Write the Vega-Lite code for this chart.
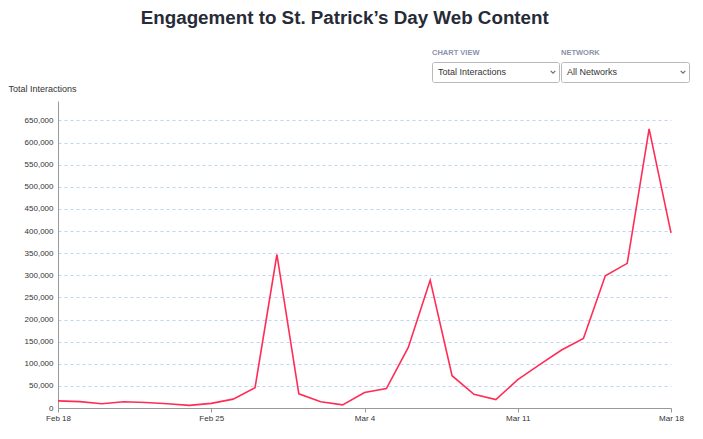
{
  "$schema": "https://vega.github.io/schema/vega-lite/v6.json",
  "background": "white",
  "padding": {"left": 8, "top": 9, "right": 5, "bottom": 5},
  "title": {
    "text": "Engagement to St. Patrick’s Day Web Content",
    "font": "Liberation Sans",
    "fontSize": 18.8,
    "fontWeight": "bold",
    "color": "#272b37",
    "anchor": "middle",
    "dx": -4,
    "offset": 20
  },
  "config": {
    "view": {"stroke": null},
    "font": "Liberation Sans"
  },
  "spacing": 1,
  "vconcat": [
    {
      "spacing": 0,
      "hconcat": [
        {
          "width": 373,
          "height": 20,
          "data": {"values": []},
          "mark": {"type": "point", "opacity": 0}
        },
        {
          "width": 127,
          "height": 20,
          "view": {"stroke": "#b9b9b9", "fill": "white", "cornerRadius": 2},
          "title": {"text": "CHART VIEW", "fontSize": 7.5, "fontWeight": "bold", "color": "#8a93aa", "anchor": "start", "offset": 6},
          "data": {"values": [{"choice": "Total Interactions"}]},
          "layer": [
            {
              "mark": {"type": "text", "align": "left", "baseline": "middle", "dx": 6, "fontSize": 9, "color": "#333333"},
              "encoding": {
                "x": {"datum": 0, "type": "quantitative", "scale": {"domain": [0, 1]}, "axis": null},
                "text": {"field": "choice"}
              }
            },
            {
              "mark": {"type": "point", "shape": "M-1,-0.5L0,0.5L1,-0.5", "filled": false, "size": 22, "strokeWidth": 1.2, "color": "#333333", "xOffset": -6},
              "encoding": {
                "x": {"datum": 1, "type": "quantitative", "scale": {"domain": [0, 1]}, "axis": null}
              }
            }
          ]
        },
        {
          "width": 128,
          "height": 20,
          "view": {"stroke": "#b9b9b9", "fill": "white", "cornerRadius": 2},
          "title": {"text": "NETWORK", "fontSize": 7.5, "fontWeight": "bold", "color": "#8a93aa", "anchor": "start", "offset": 6},
          "data": {"values": [{"choice": "All Networks"}]},
          "layer": [
            {
              "mark": {"type": "text", "align": "left", "baseline": "middle", "dx": 6, "fontSize": 9, "color": "#333333"},
              "encoding": {
                "x": {"datum": 0, "type": "quantitative", "scale": {"domain": [0, 1]}, "axis": null},
                "text": {"field": "choice"}
              }
            },
            {
              "mark": {"type": "point", "shape": "M-1,-0.5L0,0.5L1,-0.5", "filled": false, "size": 22, "strokeWidth": 1.2, "color": "#333333", "xOffset": -6},
              "encoding": {
                "x": {"datum": 1, "type": "quantitative", "scale": {"domain": [0, 1]}, "axis": null}
              }
            }
          ]
        }
      ]
    },
    {
      "width": 613,
      "height": 307,
      "data": {
        "values": [
          {"date": "Feb 18, 2018", "interactions": 16000},
          {"date": "Feb 19, 2018", "interactions": 14500},
          {"date": "Feb 20, 2018", "interactions": 9500},
          {"date": "Feb 21, 2018", "interactions": 14000},
          {"date": "Feb 22, 2018", "interactions": 12500},
          {"date": "Feb 23, 2018", "interactions": 9500},
          {"date": "Feb 24, 2018", "interactions": 6000},
          {"date": "Feb 25, 2018", "interactions": 10500},
          {"date": "Feb 26, 2018", "interactions": 20000},
          {"date": "Feb 27, 2018", "interactions": 46000},
          {"date": "Feb 28, 2018", "interactions": 347000},
          {"date": "Mar 1, 2018", "interactions": 32000},
          {"date": "Mar 2, 2018", "interactions": 14000},
          {"date": "Mar 3, 2018", "interactions": 7000},
          {"date": "Mar 4, 2018", "interactions": 35000},
          {"date": "Mar 5, 2018", "interactions": 44000},
          {"date": "Mar 6, 2018", "interactions": 137000},
          {"date": "Mar 7, 2018", "interactions": 289000},
          {"date": "Mar 8, 2018", "interactions": 73000},
          {"date": "Mar 9, 2018", "interactions": 31000},
          {"date": "Mar 10, 2018", "interactions": 19000},
          {"date": "Mar 11, 2018", "interactions": 64000},
          {"date": "Mar 12, 2018", "interactions": 98000},
          {"date": "Mar 13, 2018", "interactions": 131000},
          {"date": "Mar 14, 2018", "interactions": 157000},
          {"date": "Mar 15, 2018", "interactions": 299000},
          {"date": "Mar 16, 2018", "interactions": 327000},
          {"date": "Mar 17, 2018", "interactions": 631000},
          {"date": "Mar 18, 2018", "interactions": 396000}
        ]
      },
      "mark": {"type": "line", "color": "#ff2d55", "strokeWidth": 1.6},
      "encoding": {
        "x": {
          "field": "date",
          "type": "temporal",
          "scale": {
            "domain": [
              {"year": 2018, "month": "feb", "date": 18},
              {"year": 2018, "month": "mar", "date": 18}
            ],
            "nice": false
          },
          "axis": {
            "title": null,
            "values": [
              {"year": 2018, "month": "feb", "date": 18},
              {"year": 2018, "month": "feb", "date": 25},
              {"year": 2018, "month": "mar", "date": 4},
              {"year": 2018, "month": "mar", "date": 11},
              {"year": 2018, "month": "mar", "date": 18}
            ],
            "format": "%b %-d",
            "labelFlush": false,
            "labelFontSize": 8,
            "labelColor": "#333333",
            "labelPadding": 2,
            "tickSize": 4,
            "tickColor": "#999999",
            "domainColor": "#999999",
            "grid": false
          }
        },
        "y": {
          "field": "interactions",
          "type": "quantitative",
          "scale": {"domain": [0, 694000], "nice": false},
          "axis": {
            "title": "Total Interactions",
            "titleAngle": 0,
            "titleAlign": "left",
            "titleBaseline": "middle",
            "titleX": -50,
            "titleY": -13,
            "titleFontSize": 9,
            "titleFontWeight": "normal",
            "titleColor": "#333333",
            "values": [0, 50000, 100000, 150000, 200000, 250000, 300000, 350000, 400000, 450000, 500000, 550000, 600000, 650000],
            "format": ",.0f",
            "labelFontSize": 8,
            "labelColor": "#333333",
            "labelPadding": 5,
            "ticks": false,
            "tickSize": 0,
            "domainColor": "#999999",
            "grid": true,
            "gridColor": "#bfd4f5",
            "gridDash": [3, 3],
            "gridWidth": 1
          }
        }
      }
    }
  ]
}
